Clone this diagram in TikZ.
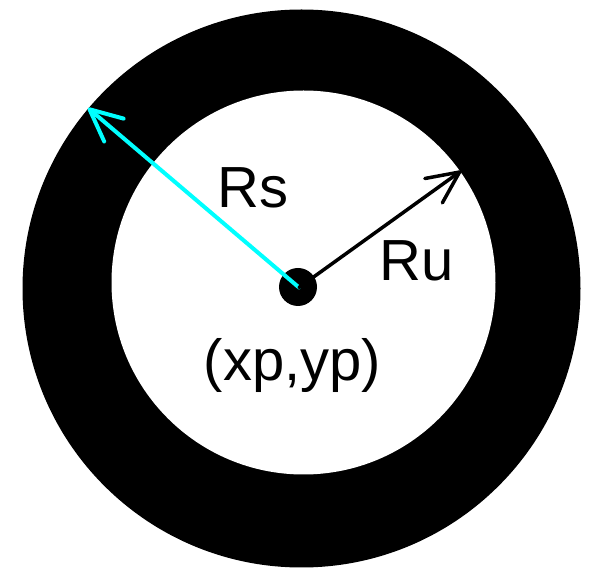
\documentclass[tikz,border=0pt]{standalone}
\usepackage{fontspec}
\setmainfont{Liberation Sans}
\usetikzlibrary{arrows.meta}
\definecolor{aqua}{RGB}{0,255,255}
\tikzset{
  lbl/.style={anchor=base, inner sep=0pt, font=\fontsize{58}{66}\selectfont},
  radarrow/.style={line width=3.5pt, line cap=round, -{Straight Barb[length=32pt,width=30pt,round]}},
}
\begin{document}
\begin{tikzpicture}[x=1pt,y=-1pt]
\useasboundingbox (0,0) rectangle (590,569);
\fill[black] (301.5,288.5) circle (279);
\fill[white] (303.5,282.5) circle (192);
\fill[black] (298,287) circle (19);
\coordinate (c) at (299,287.5);
\coordinate (s) at (88,108);
\coordinate (u) at (461,171);
\draw[radarrow, aqua, line width=4pt] (c) -- (s);
\draw[radarrow, black] (c) -- (u);
\node[lbl] (rs) at (253,208) {Rs};
\node[lbl] (ru) at (417,281) {Ru};
\node[lbl] (xy) at (292.5,381) {(xp,yp)};
\end{tikzpicture}
\end{document}
